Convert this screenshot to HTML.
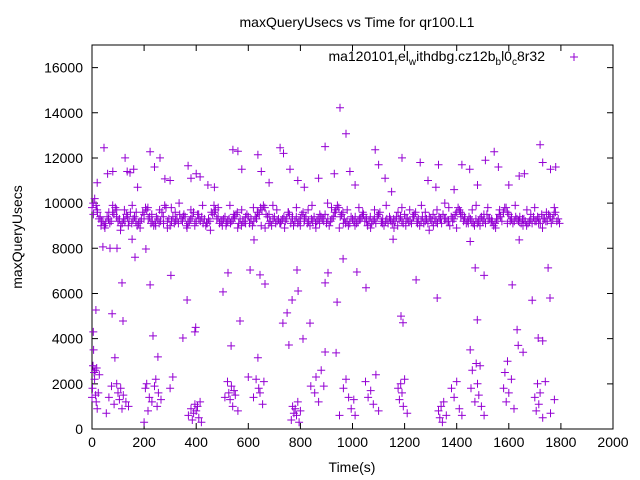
<!DOCTYPE html>
<html><head><meta charset="utf-8"><style>
body{margin:0;background:#fff}
svg{display:block;font-family:"Liberation Sans",sans-serif}
</style></head><body>
<svg id="chart" width="640" height="480" viewBox="0 0 640 480">
<rect width="640" height="480" fill="#fff"/>
<text x="357" y="27" font-size="14" text-anchor="middle">maxQueryUsecs vs Time for qr100.L1</text>
<text transform="translate(22,237) rotate(-90)" font-size="14" text-anchor="middle">maxQueryUsecs</text>
<text x="352" y="472" font-size="14" text-anchor="middle">Time(s)</text>
<g id="axes"></g>
<g id="marks"></g>
<g>
<text x="545" y="61" font-size="14" text-anchor="end">ma120101<tspan font-size="10" dy="4">r</tspan><tspan dy="-4">el</tspan><tspan font-size="10" dy="4">w</tspan><tspan dy="-4">ithdbg.cz12b</tspan><tspan font-size="10" dy="4">b</tspan><tspan dy="-4">l0</tspan><tspan font-size="10" dy="4">c</tspan><tspan dy="-4">8r32</tspan></text>
<path d="M570,57h8M574,53v8" stroke="#9400d3" stroke-width="1"/>
</g>
</svg>
<script>
const xTicks=[0,200,400,600,800,1000,1200,1400,1600,1800,2000];
const yTicks=[0,2000,4000,6000,8000,10000,12000,14000,16000];
const bandEnd=1800;
const bandA=[9800,10200,9600,9400,9200,9100,9300,9200,9500,9700,9300,9100,9200,9400,9600,9300,9200,9100,9300,9500,
9700,9400,9200,9100,9300,9200,9400,9800,9300,9200,9100,9300,9500,9200,9400,9100,9300,9600,9200,9300,
9400,9300,9100,9200,9500,9700,9400,9200,9300,9100,9300,9200,9400,9600,9300,9200,9100,9400,9300,9200,
9300,9500,9700,9800,9400,9200,9300,9100,9300,9200,9400,9300,9500,9300,9200,9100,9300,9600,9400,9200,
9300,9400,9200,9100,9300,9500,9300,9200,9400,9700,9800,9500,9300,9200,9100,9300,9400,9200,9300,9500,
9300,9200,9100,9300,9400,9600,9300,9200,9100,9200,9300,9400,9300,9200,9500,9300,9200,9400,9600,9300,
9200,9100,9300,9400,9200,9300,9100,9300,9500,9300,9200,9400,9300,9600,9700,9500,9300,9200,9300,9100,
9300,9200,9400,9300,9500,9300,9200,9100,9300,9400,9600,9800,9500,9300,9200,9300,9400,9300,9200,9100,
9300,9400,9200,9300,9500,9300,9200,9400,9300,9600,9300];
const bandB=[9500,9900,9300,9200,9000,9400,9100,9600,9800,9200,9000,9300,9500,9200,9100,9400,9000,9200,9600,9800,
9300,9100,9000,9400,9100,9600,9900,9200,9000,9400,9200,9100,9300,9500,9000,9200,9400,9100,9500,9200,
9100,9000,9300,9600,9900,9300,9100,9000,9400,9200,9100,9300,9500,9100,9000,9200,9500,9100,9000,9400,
9600,9800,9900,9500,9100,9000,9400,9200,9100,9300,9200,9600,9100,9000,9400,9200,9500,9300,9100,9000,
9200,9100,9300,9400,9200,9100,9000,9300,9600,9900,9400,9600,9100,9000,9400,9200,9100,9300,9400,9200,
9000,9400,9200,9100,9500,9200,9000,9300,9400,9100,9200,9000,9400,9100,9300,9200,9100,9500,9200,9000,
9400,9200,9100,9300,9000,9200,9400,9100,9300,9200,9000,9300,9500,9800,9400,9200,9100,9400,9200,9000,
9100,9300,9200,9100,9300,9200,9000,9300,9500,9200,9800,9600,9200,9100,9400,9200,9100,9300,9000,9200,
9100,9200,9400,9100,9300,9200,9500,9100,9500,9200,9100];
const bandC=[10000,9700,9000,8900,9600,9900,9400,8800,9700,9000,9900,9600,8900,9300,9800,9500,9000,9700,9100,8900,
9800,9600,10000,9400,8900,9700,9000,9500,9900,9100,8800,9600,9800,9200,9000,9900,9500,8900,9700,9400,
9100,9800,9600,9000,8900,9500,9900,9700,9100,8900,9600,9400,9800,9000,9200,9700,9900,8900,9500,9300,
10000,9800,9600,8900,9100,9700,9400,9000,9800,9600,9200,8900,9700,9500,9100,9900,9300,8900,9600,9800,
9000,9700,9400,9100,9900,9600,8800,9500,9700,9300,10000,9800,9200,8900,9600,9400,9100,9700,9900,9000,
9500,9800,9300,8900,9700,9600,9100,9400,9900,9200,9000,9700,9500,9800,9100,8900,9600,9400,9800,9300];
const upperT=[20,46,60,80,127,135,146,160,175,223,240,261,280,300,369,380,400,415,445,470,541,560,575,637,650,680,722,735,760,790,815,870,895,930,952,975,990,1010,1087,1100,1125,1150,1190,1260,1290,1320,1330,1390,1420,1450,1480,1510,1544,1560,1600,1640,1660,1720,1730,1760,1780];
const upperV=[10900,12450,11300,11400,12000,11400,11340,11500,10700,12270,11600,12000,11070,11000,11650,11100,11300,11160,10800,10700,12360,12300,11500,12140,11400,10900,12450,12200,11500,11000,10700,11100,12500,11300,14220,13070,11400,10800,12360,11700,11100,10500,12000,11800,11000,10700,11700,10600,11700,11500,10800,11900,12270,11600,10800,11200,11300,12580,11800,11500,11600];
const midPts=[[42,8060],[69,8000],[96,8000],[154,8400],[165,7600],[207,7970],[303,6800],[115,6470],[223,6380],[15,5270],[77,5100],[119,4780],[365,5710],[234,4120],[395,4300],[398,4500],[253,3190],[88,3150],[349,4030],[522,6910],[503,6070],[568,4780],[607,7040],[645,6820],[664,6420],[622,8370],[534,3680],[637,3150],[749,5140],[768,5710],[791,6110],[787,7040],[733,4690],[756,3720],[810,3990],[837,4690],[895,6470],[906,6910],[941,5620],[937,3370],[895,3410],[964,7530],[1017,6950],[1052,6250],[1194,4700],[1186,5000],[1244,6600],[1156,8400],[1325,5800],[1452,8300],[1471,7130],[1505,6800],[1479,4830],[1452,3500],[1640,8370],[1613,6380],[1690,5700],[1751,7130],[1758,5800],[1713,4030],[1730,3900],[1632,4390],[1636,3700],[1655,3400]];
const lowPts=[[0,1400],[2,1800],[4,2800],[5,4300],[6,3500],[8,2500],[10,2200],[12,2600],[14,1500],[16,1200],[18,2700],[20,900],[24,1600],[28,2400],
[55,700],[65,1400],[75,1900],[85,1100],[95,2000],[100,1600],[105,1300],[110,1800],[115,900],[120,1500],[130,1200],[140,1000],
[200,300],[205,1800],[210,2000],[215,800],[220,1400],[230,1200],[240,1900],[245,2200],[250,1000],[255,1600],[265,1300],[300,1800],[310,2300],
[370,600],[380,900],[385,400],[390,700],[395,1100],[400,800],[405,1000],[410,500],[415,1200],[420,300],
[510,1400],[520,2100],[525,1600],[530,1300],[535,1900],[540,1000],[545,1700],[550,1500],[560,800],
[600,2300],[620,1400],[630,2200],[640,1800],[645,1600],[655,1100],[660,2100],
[765,400],[770,1000],[775,700],[780,900],[785,600],[790,1200],[795,300],[800,800],
[840,1900],[855,1600],[860,2300],[870,1200],[880,2600],[890,1900],
[950,600],[965,1800],[975,2200],[985,1400],[995,900],[1005,1300],[1010,600],
[1050,2100],[1060,1400],[1070,1700],[1080,1100],[1090,2400],[1100,800],
[1175,1800],[1180,1300],[1185,2000],[1190,1600],[1195,1000],[1200,2200],[1210,700],
[1330,800],[1335,500],[1340,1000],[1345,300],[1350,1200],[1360,600],[1380,1800],[1390,1400],[1400,2100],[1410,900],[1420,600],
[1455,1800],[1460,2600],[1470,1200],[1475,2900],[1480,2000],[1485,1500],[1490,2800],[1495,1000],[1505,600],
[1580,1800],[1585,2500],[1590,1200],[1595,3000],[1600,1600],[1610,2200],[1620,900],
[1700,1400],[1705,800],[1710,2000],[1715,1100],[1720,1600],[1730,500],[1740,2100],[1760,700],[1775,1300]];

const L=92,R=613,T=45,B=429,XMAX=2000,YMAX=17000;
function sx(t){return L+(t/XMAX)*(R-L);}
function sy(v){return B-(v/YMAX)*(B-T);}
const NS="http://www.w3.org/2000/svg";
const axes=document.getElementById('axes');
let d=`M${L},${T}H${R}V${B}H${L}Z`;
xTicks.forEach(t=>{const x=sx(t);d+=`M${x},${B}v-6M${x},${T}v6`;
 const tx=document.createElementNS(NS,'text');
 
 
 tx.setAttribute('x',x);tx.setAttribute('y',447);tx.setAttribute('font-size','14');tx.setAttribute('text-anchor','middle');tx.textContent=t;axes.appendChild(tx);});
yTicks.forEach(v=>{const y=sy(v);d+=`M${L},${y}h6M${R},${y}h-6`;
 const tx=document.createElementNS(NS,'text');
 
 
 tx.setAttribute('x',83);tx.setAttribute('y',y+5);tx.setAttribute('font-size','14');tx.setAttribute('text-anchor','end');tx.textContent=v;axes.appendChild(tx);});
const frame=document.createElementNS(NS,'path');


frame.setAttribute('d',d);frame.setAttribute('stroke','#000');frame.setAttribute('fill','none');frame.setAttribute('stroke-width','1');
axes.appendChild(frame);
let pd='';
function plus(t,v){const x=sx(t),y=sy(v);pd+=`M${(x-4).toFixed(1)},${y.toFixed(1)}h8M${x.toFixed(1)},${(y-4).toFixed(1)}v8`;}
function band(arr,off){const step=bandEnd/arr.length;arr.forEach((v,i)=>plus(i*step+off*step,v));}
band(bandA,0);
band(bandB,0.5);
band(bandC,0.3);
upperT.forEach((t,i)=>plus(t,upperV[i]));
midPts.forEach(p=>plus(p[0],p[1]));
lowPts.forEach(p=>plus(p[0],p[1]));
const m=document.createElementNS(NS,'path');


m.setAttribute('d',pd);m.setAttribute('stroke','#9400d3');m.setAttribute('fill','none');m.setAttribute('stroke-width','1');
document.getElementById('marks').appendChild(m);
</script>
</body></html>
